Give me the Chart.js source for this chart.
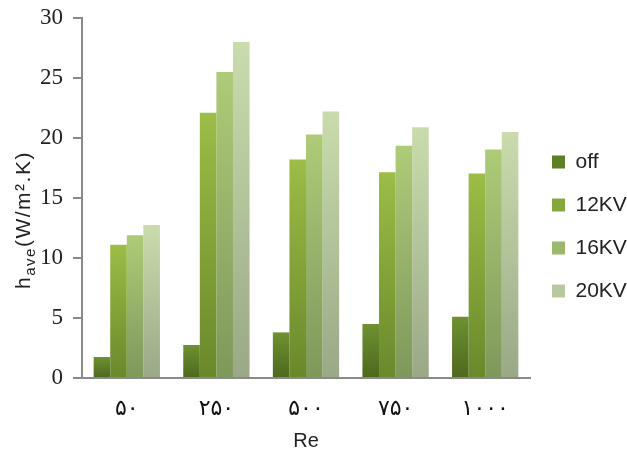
<!DOCTYPE html>
<html>
<head>
<meta charset="utf-8">
<script src="https://cdn.jsdelivr.net/npm/chart.js@4"></script>
<style>
  html, body { margin: 0; padding: 0; background: #fff; }
  #wrap { width: 627px; height: 457px; }
</style>
</head>
<body>
<div id="wrap"><canvas id="grafica"></canvas></div>
<script>
const categorias = ['۵۰', '۲۵۰', '۵۰۰', '۷۵۰', '۱۰۰۰'];
const serieOff = [1.75, 2.75, 3.8, 4.5, 5.1];
const serie12 = [11.1, 22.1, 18.2, 17.15, 17.05];
const serie16 = [11.9, 25.5, 20.3, 19.35, 19.05];
const serie20 = [12.75, 28.0, 22.2, 20.9, 20.5];
const ticksY = [0, 5, 10, 15, 20, 25, 30];

// colores arriba / abajo de cada barra
const colores = {
    off: ['#6e9131', '#4d681d'],
    kv12: ['#9cbd46', '#6a882b'],
    kv16: ['#aecb78', '#7e985b'],
    kv20: ['#cadcad', '#9aa886']
};
const coloresLeyenda = ['#5f7f27', '#86a83a', '#9bb86c', '#b8c9a0'];

function degradado(par) {
    return function(context) {
        const chart = context.chart;
        if (!chart.chartArea || context.type !== 'data') return par[0];
        const y = chart.scales.y;
        const v = context.raw;
        const top = y.getPixelForValue(v);
        const bottom = y.getPixelForValue(0);
        if (!isFinite(top) || top === bottom) return par[0];
        const g = chart.ctx.createLinearGradient(0, top, 0, bottom);
        g.addColorStop(0, par[0]);
        g.addColorStop(1, par[1]);
        return g;
    };
}

// titulo del eje y con subindice
const tituloY = {
    id: 'tituloY',
    afterDraw(chart) {
        const ctx = chart.ctx;
        ctx.save();
        ctx.translate(24, 220);
        ctx.rotate(-Math.PI / 2);
        ctx.fillStyle = '#222';
        ctx.textBaseline = 'alphabetic';
        ctx.letterSpacing = '1.5px';
        const big = '21px "Liberation Sans"';
        const small = '15px "Liberation Sans"';
        const partes = [['h', big, 0], ['ave', small, 5], ['(W/m².K)', big, 0]];
        let total = 0;
        partes.forEach(p => { ctx.font = p[1]; total += ctx.measureText(p[0]).width; });
        let x = -total / 2;
        partes.forEach(p => {
            ctx.font = p[1];
            ctx.fillText(p[0], x, 6 + p[2]);
            x += ctx.measureText(p[0]).width;
        });
        ctx.restore();
    }
};

const datasets = [
    { label: 'off', data: serieOff, par: colores.off },
    { label: '12KV', data: serie12, par: colores.kv12 },
    { label: '16KV', data: serie16, par: colores.kv16 },
    { label: '20KV', data: serie20, par: colores.kv20 }
].map((d, i) => ({
    label: d.label,
    data: d.data,
    backgroundColor: degradado(d.par),
    legendColor: coloresLeyenda[i],
    borderWidth: 0,
    categoryPercentage: 0.74,
    barPercentage: 1.0
}));

new Chart(document.getElementById('grafica'), {
    type: 'bar',
    data: { labels: categorias, datasets: datasets },
    plugins: [tituloY],
    options: {
        responsive: true,
        maintainAspectRatio: false,
        animation: false,
        layout: { padding: { top: 0, right: 0, bottom: 4, left: 0 } },
        plugins: {
            tooltip: { enabled: false },
            legend: {
                position: 'right',
                align: 'center',
                maxWidth: 97,
                labels: {
                    font: { family: 'Liberation Sans', size: 21 },
                    color: '#222',
                    boxWidth: 13,
                    boxHeight: 13,
                    padding: 22,
                    generateLabels(chart) {
                        return chart.data.datasets.map((ds, i) => ({
                            text: ds.label,
                            fillStyle: ds.legendColor,
                            strokeStyle: 'rgba(0,0,0,0)',
                            lineWidth: 0,
                            hidden: false,
                            datasetIndex: i,
                            fontColor: '#222'
                        }));
                    }
                }
            }
        },
        scales: {
            x: {
                grid: { display: false },
                border: { display: true, color: '#8a8a8a', width: 2 },
                ticks: {
                    font: { family: 'DejaVu Sans', size: 22 },
                    color: '#111',
                    padding: 10
                },
                title: {
                    display: true,
                    text: 'Re',
                    font: { family: 'Liberation Sans', size: 20 },
                    color: '#222',
                    padding: { top: 10, bottom: 0 }
                },
                afterFit(scale) { scale.height = 75; }
            },
            y: {
                min: 0,
                max: 30,
                afterBuildTicks(scale) { scale.ticks = ticksY.map(v => ({ value: v })); },
                grid: {
                    drawOnChartArea: false,
                    drawTicks: true,
                    tickLength: 9,
                    color: '#8a8a8a',
                    lineWidth: 2
                },
                border: { display: true, color: '#8a8a8a', width: 2 },
                ticks: {
                    font: { family: 'Liberation Serif', size: 23 },
                    color: '#222',
                    padding: 10
                },
                afterFit(scale) {
                    scale.width = 82;
                    scale.paddingTop = 18;
                    scale.paddingBottom = 0;
                }
            }
        }
    }
});
</script>
</body>
</html>
